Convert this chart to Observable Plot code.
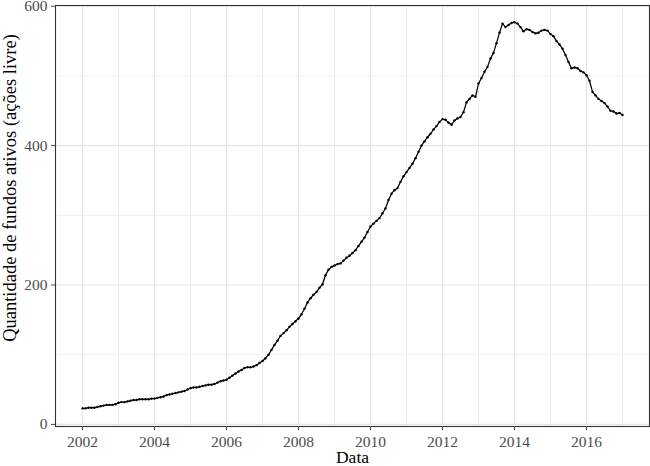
<!DOCTYPE html>
<html>
<head>
<meta charset="utf-8">
<script src="https://cdn.jsdelivr.net/npm/d3@7"></script>
<script src="https://cdn.jsdelivr.net/npm/@observablehq/plot@0.6"></script>
<style>
  html, body { margin: 0; padding: 0; background: #fff; }
  #chart svg { display: block; overflow: visible; }
</style>
</head>
<body>
<div id="chart"></div>
<script>
// Monthly counts of active funds (Jan..Dec) per year
const years = [2002, 2003, 2004, 2005, 2006, 2007, 2008, 2009, 2010, 2011, 2012, 2013, 2014, 2015, 2016, 2017];
const v2002 = [23, 23, 24, 24, 24, 25, 26, 27, 28, 28, 28, 29];
const v2003 = [31, 32, 32, 33, 34, 35, 35, 36, 36, 36, 36, 37];
const v2004 = [37, 38, 39, 40, 42, 43, 44, 45, 46, 47, 48, 50];
const v2005 = [52, 53, 53, 54, 55, 56, 57, 57, 58, 60, 62, 63];
const v2006 = [64, 67, 70, 73, 76, 78, 81, 82, 82, 83, 85, 88];
const v2007 = [91, 95, 100, 107, 114, 120, 127, 131, 135, 140, 144, 148];
const v2008 = [152, 158, 166, 175, 181, 186, 190, 196, 201, 214, 222, 226];
const v2009 = [228, 230, 231, 235, 239, 242, 246, 250, 256, 262, 268, 276];
const v2010 = [284, 288, 292, 296, 303, 310, 322, 331, 336, 339, 348, 356];
const v2011 = [362, 368, 374, 382, 391, 400, 406, 412, 417, 423, 428, 434];
const v2012 = [438, 437, 433, 430, 436, 439, 441, 448, 462, 467, 472, 470];
const v2013 = [489, 497, 506, 513, 525, 533, 547, 562, 575, 570, 573, 576];
const v2014 = [577, 575, 570, 564, 567, 566, 563, 561, 562, 565, 566, 565];
const v2015 = [560, 557, 550, 545, 539, 530, 520, 511, 512, 511, 507, 505];
const v2016 = [501, 493, 477, 472, 467, 464, 461, 456, 450, 449, 446, 447];
const v2017 = [444];
const yearValues = [v2002, v2003, v2004, v2005, v2006, v2007, v2008, v2009, v2010, v2011, v2012, v2013, v2014, v2015, v2016, v2017];

const xTicks = [2002, 2004, 2006, 2008, 2010, 2012, 2014, 2016];
const xMinor = [2003, 2005, 2007, 2009, 2011, 2013, 2015, 2017];
const yTicks = [0, 200, 400, 600];
const yMinor = [100, 300, 500];
const xTitle = "Data";
const yTitle = "Quantidade de fundos ativos (ações livre)";

const data = [];
years.forEach((yr, k) => {
  yearValues[k].forEach((v, m) => data.push({t: yr + m / 12, n: v}));
});

const font = "'Liberation Serif', 'Times New Roman', serif";

const chart = Plot.plot({
  width: 650,
  height: 466,
  marginLeft: 55,
  marginRight: 1,
  marginTop: 5,
  marginBottom: 40,
  style: {fontFamily: font, fontSize: "15.5px", background: "#fff", color: "#4d4d4d", overflow: "visible"},
  x: {domain: [2001.25, 2017.75], label: null, axis: null},
  y: {domain: [-3, 601], label: null, axis: null},
  marks: [
    Plot.gridX(xMinor, {stroke: "#e8e8e8", strokeOpacity: 1, strokeWidth: 0.7}),
    Plot.gridY(yMinor, {stroke: "#e8e8e8", strokeOpacity: 1, strokeWidth: 0.7}),
    Plot.gridX(xTicks, {stroke: "#e5e5e5", strokeOpacity: 1, strokeWidth: 1.2}),
    Plot.gridY(yTicks, {stroke: "#e5e5e5", strokeOpacity: 1, strokeWidth: 1.2}),
    Plot.line(data, {x: "t", y: "n", stroke: "#000", strokeWidth: 1.25}),
    Plot.dot(data, {x: "t", y: "n", r: 1.2, fill: "#000", stroke: "none"}),
    Plot.frame({stroke: "#333", strokeWidth: 1.1}),
    Plot.axisX(xTicks, {tickSize: 4, tickPadding: 5, tickFormat: d => String(d), color: "#4d4d4d", label: null, fontSize: 15.5}),
    Plot.axisY(yTicks, {tickSize: 4, tickPadding: 4, tickFormat: d => String(d), color: "#4d4d4d", label: null, fontSize: 15.5}),
    Plot.text([xTitle], {frameAnchor: "bottom", text: d => d, textAnchor: "middle", lineAnchor: "bottom", dy: 36, fill: "#000", fontSize: 17.5, fontFamily: font}),
    Plot.text([yTitle], {frameAnchor: "left", text: d => d, textAnchor: "middle", rotate: -90, dx: -45, dy: -28, fill: "#000", fontSize: 18.5, fontFamily: font})
  ]
});

document.getElementById("chart").appendChild(chart);
</script>
</body>
</html>
